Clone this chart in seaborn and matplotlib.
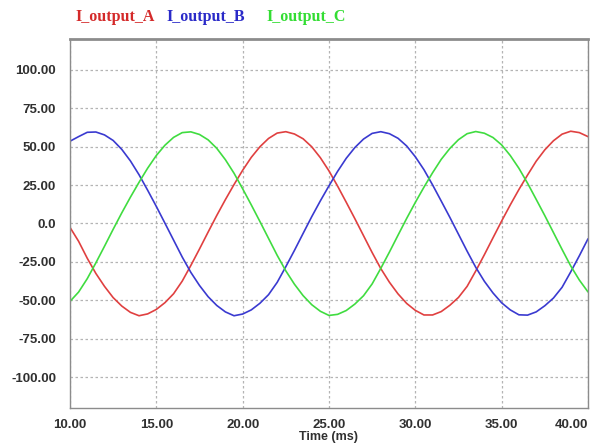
import matplotlib
matplotlib.use("Agg")
import matplotlib.pyplot as plt
import numpy as np
import pandas as pd
import seaborn as sns

# sample times (ms), one reading every 0.5 ms
time_ms = [10.0, 10.5, 11.0, 11.5, 12.0, 12.5, 13.0, 13.5, 14.0, 14.5,
           15.0, 15.5, 16.0, 16.5, 17.0, 17.5, 18.0, 18.5, 19.0, 19.5,
           20.0, 20.5, 21.0, 21.5, 22.0, 22.5, 23.0, 23.5, 24.0, 24.5,
           25.0, 25.5, 26.0, 26.5, 27.0, 27.5, 28.0, 28.5, 29.0, 29.5,
           30.0, 30.5, 31.0, 31.5, 32.0, 32.5, 33.0, 33.5, 34.0, 34.5,
           35.0, 35.5, 36.0, 36.5, 37.0, 37.5, 38.0, 38.5, 39.0, 39.5,
           40.0]

i_output_a = [-2.5, -11.6, -22.6, -32.5, -40.9, -48.2, -53.7, -57.8, -60.0, -58.8,
              -55.9, -51.5, -45.7, -37.5, -27.3, -16.6, -5.6, 5.2, 15.5, 25.3,
              34.6, 43.0, 49.9, 55.3, 58.8, 59.7, 58.2, 55.1, 49.9, 42.8,
              34.2, 24.3, 13.8, 3.1, -7.9, -18.9, -29.3, -38.2, -45.8, -52.0,
              -56.5, -59.5, -59.5, -57.3, -53.2, -48.1, -40.9, -30.9, -20.3, -9.3,
              1.6, 12.1, 22.1, 31.5, 40.5, 47.9, 53.8, 58.1, 60.0, 59.1,
              56.5]

i_output_b = [53.5, 56.5, 59.3, 59.5, 57.6, 54.0, 48.2, 40.7, 31.7, 21.6,
              11.1, 0.2, -10.8, -21.8, -31.8, -40.3, -47.6, -53.3, -57.5, -60.0,
              -58.9, -56.2, -51.9, -46.3, -38.3, -28.1, -17.5, -6.5, 4.4, 14.7,
              24.5, 33.9, 42.4, 49.4, 54.9, 58.6, 59.7, 58.4, 55.4, 50.4,
              43.4, 35.0, 25.1, 14.6, 4.0, -7.0, -18.0, -28.5, -37.6, -45.2,
              -51.6, -56.2, -59.4, -59.6, -57.5, -53.5, -48.5, -41.5, -31.5, -21.0,
              -10.0]

i_output_c = [-50.7, -44.6, -35.9, -25.6, -14.8, -3.8, 6.9, 17.1, 26.8, 36.0,
              44.2, 50.9, 56.0, 59.1, 59.6, 57.9, 54.4, 48.9, 41.5, 32.7,
              22.6, 12.1, 1.3, -9.7, -20.7, -30.8, -39.5, -46.9, -52.8, -57.1,
              -59.8, -59.1, -56.6, -52.4, -47.0, -39.3, -29.2, -18.6, -7.6, 3.3,
              13.7, 23.6, 33.0, 41.7, 48.8, 54.5, 58.4, 59.8, 58.7, 55.9,
              51.1, 44.2, 35.9, 26.2, 15.7, 5.1, -5.9, -16.9, -27.6, -36.8,
              -44.5]

series_names = ["I_output_A", "I_output_B", "I_output_C"]
line_colors = ["#e04040", "#3a3ad0", "#40dc40"]
label_colors = ["#d42a2a", "#2a2ac8", "#33dd33"]

x_ticks = [10, 15, 20, 25, 30, 35, 40]
x_tick_labels = ["10.00", "15.00", "20.00", "25.00", "30.00", "35.00", "40.00"]
y_ticks = [-100, -75, -50, -25, 0, 25, 50, 75, 100]
y_tick_labels = ["-100.00", "-75.00", "-50.00", "-25.00", "0.0",
                 "25.00", "50.00", "75.00", "100.00"]

df = pd.DataFrame({"Time (ms)": time_ms * 3,
                   "Current": i_output_a + i_output_b + i_output_c,
                   "Signal": np.repeat(series_names, len(time_ms))})

sns.set_style("white")
plt.rcParams['font.family'] = ['Liberation Sans', 'DejaVu Sans']

fig = plt.figure(figsize=(5.95, 4.48), dpi=100)
ax = fig.add_axes([0.1176, 0.0893, 0.8706, 0.8237])

sns.lineplot(data=df, x="Time (ms)", y="Current", hue="Signal",
             palette=dict(zip(series_names, line_colors)),
             linewidth=1.2, legend=False, ax=ax)

ax.set_xlim(10, 40)
ax.set_ylim(-120, 120)
ax.set_xticks(x_ticks)
ax.set_xticklabels(x_tick_labels, fontsize=9.5, fontweight="bold", color="#303030")
ax.set_yticks(y_ticks)
ax.set_yticklabels(y_tick_labels, fontsize=9.5, fontweight="bold", color="#303030")
ax.tick_params(axis="y", length=0, pad=10)
ax.tick_params(axis="x", length=0, pad=8)
# the last time label is kept inside the picture, as in the original
ax.get_xticklabels()[-1].set_horizontalalignment("right")
ax.get_xticklabels()[-1].set_x(40.1)
ax.set_xlabel("Time (ms)", fontsize=9, fontweight="bold", color="#303030", labelpad=0)
ax.set_ylabel("")

ax.grid(True, color="#b4b4b4", linestyle=(0, (2, 2)), linewidth=0.9)
for side in ["left", "right", "bottom"]:
    ax.spines[side].set_color("#8c8c8c")
    ax.spines[side].set_linewidth(1.0)
ax.spines["top"].set_color("#8c8c8c")
ax.spines["top"].set_linewidth(2.0)

# header legend drawn as coloured text
x_pos = [0.126, 0.279, 0.448]
for name, col, xp in zip(series_names, label_colors, x_pos):
    fig.text(xp, 0.963, name, color=col, fontsize=11.5, fontweight="bold",
             family="Liberation Serif", va="center", ha="left")

plt.savefig("out.png", dpi=100)
